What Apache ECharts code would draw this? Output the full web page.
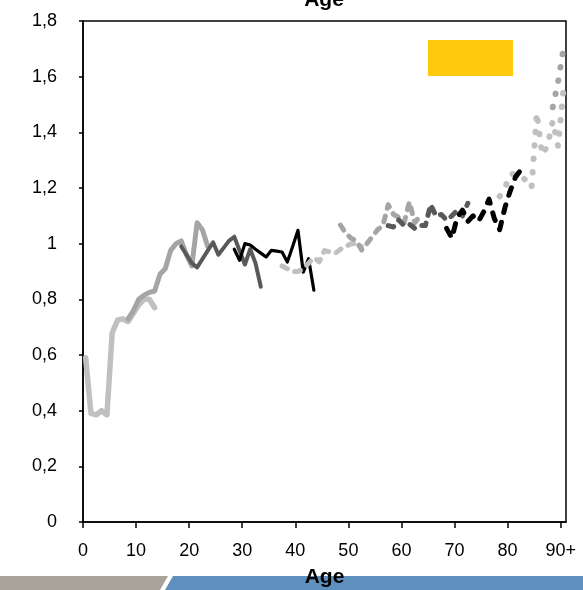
<!DOCTYPE html>
<html><head><meta charset="utf-8">
<script src="https://cdn.jsdelivr.net/npm/echarts@6/dist/echarts.min.js"></script>
<style>html,body{margin:0;padding:0;background:#fff}#c{width:583px;height:590px}</style>
</head><body><div id="c"></div>
<script>
// ---- data ----
const ageCategories = Array.from({length: 91}, (_, i) => String(i));
const xTickValues = [0, 10, 20, 30, 40, 50, 60, 70, 80, 90];
const xTickLabels = ['0', '10', '20', '30', '40', '50', '60', '70', '80', '90+'];
const yTickValues = [0, 0.2, 0.4, 0.6, 0.8, 1, 1.2, 1.4, 1.6, 1.8];

const agesA = [0,1,2,3,4,5,6,7,8,9,10,11,12,13];
const valsA = [0.59,0.39,0.385,0.40,0.385,0.68,0.725,0.73,0.72,0.75,0.78,0.80,0.80,0.77];

const agesB = [8,9,10,11,12,13,14,15,16,17,18,19,20,21,22,23];
const valsB = [0.73,0.76,0.80,0.815,0.825,0.83,0.89,0.91,0.975,1.00,1.01,0.96,0.92,1.075,1.05,0.99];

const agesC = [18,19,20,21,22,23,24,25,26,27,28,29,30,31,32,33];
const valsC = [0.99,0.96,0.93,0.915,0.945,0.975,1.005,0.96,0.985,1.01,1.025,0.975,0.925,0.98,0.93,0.845];

const agesD = [28,29,30,31,32,33,34,35,36,37,38,39,40,41,42,43];
const valsD = [0.98,0.94,1.00,0.995,0.98,0.966,0.952,0.976,0.973,0.97,0.934,0.99,1.048,0.898,0.946,0.833];

const agesE = [37,38,39,40,41,42,43,44,45,46,47,48,49,50,51,52];
const valsE = [0.92,0.91,0.90,0.90,0.91,0.93,0.95,0.935,0.975,0.97,0.965,0.98,0.99,1.00,1.00,0.99];

const agesF = [48,49,50,51,52,53,54,55,56,57,58,59,60,61,62,63];
const valsF = [1.067,1.037,1.02,1.01,0.977,1.00,1.025,1.05,1.065,1.14,1.105,1.095,1.075,1.15,1.075,1.10];

const agesG = [57,58,59,60,61,62,63,64,65,66,67,68,69,70,71,72];
const valsG = [1.065,1.06,1.085,1.065,1.07,1.055,1.065,1.065,1.14,1.10,1.105,1.085,1.10,1.12,1.10,1.145];

const agesH = [68,69,70,71,72,73,74,75,76,77,78,79,80,81,82,83];
const valsH = [1.055,1.02,1.095,1.12,1.08,1.10,1.08,1.115,1.16,1.09,1.05,1.13,1.19,1.24,1.265,1.275];

const agesI = [78,79,80,81,82,83,84,85,86,87,88,89,90];
const valsI = [1.17,1.20,1.25,1.25,1.245,1.225,1.20,1.47,1.32,1.35,1.44,1.35,1.55];

const agesJ = [88,89,90];
const valsJ = [1.49,1.58,1.70];

// ---- chart ----
const pairs = (ages, vals) => ages.map((a, i) => [String(a), vals[i]]);
function line(name, ages, vals, color, width, dash) {
  return {
    name, type: 'line', xAxisIndex: 0, yAxisIndex: 0,
    data: pairs(ages, vals), symbol: 'none', silent: true,
    lineStyle: {color, width, type: dash || 'solid', cap: 'round', join: 'round'},
    itemStyle: {color}
  };
}
const FONT = 'Liberation Sans, Arial, sans-serif';
const chart = echarts.init(document.getElementById('c'), null, {renderer: 'canvas'});
chart.setOption({
  animation: false,
  backgroundColor: '#fff',
  grid: {left: 83, right: 17, top: 21, bottom: 68, outerBoundsMode: 'none', containLabel: false,
         show: true, borderColor: '#000', borderWidth: 1.5, backgroundColor: 'transparent'},
  xAxis: [
    {type: 'category', data: ageCategories, position: 'top', boundaryGap: true, show: false},
    {type: 'value', min: 0, max: 91, position: 'bottom',
     axisLine: {show: true, lineStyle: {color: '#000', width: 1.5}},
     axisTick: {show: true, length: 6, lineStyle: {color: '#000', width: 1.5}, customValues: xTickValues},
     axisLabel: {customValues: xTickValues, formatter: v => xTickLabels[xTickValues.indexOf(v)] || '',
                 color: '#000', fontSize: 18, fontFamily: FONT, margin: 20},
     splitLine: {show: false},
     name: 'Age', nameLocation: 'middle', nameGap: 45,
     nameTextStyle: {fontWeight: 'bold', fontSize: 21, color: '#000', fontFamily: FONT}}
  ],
  yAxis: {type: 'value', min: 0, max: 1.8, interval: 0.2,
    axisLine: {show: true, lineStyle: {color: '#000', width: 1.5}},
    axisTick: {show: true, length: 4, lineStyle: {color: '#000', width: 1.5}},
    axisLabel: {formatter: v => String(Math.round(v * 10) / 10).replace('.', ','), color: '#000', fontSize: 18, fontFamily: FONT, margin: 26},
    splitLine: {show: false}},
  graphic: [
    {type: 'polygon', z: -10, shape: {points: [[0,576],[168,576],[160,590],[0,590]]}, style: {fill: '#a9a29a'}},
    {type: 'polygon', z: -10, shape: {points: [[173,576],[583,576],[583,590],[165,590]]}, style: {fill: '#5f8fbd'}},
    {type: 'rect', shape: {x: 428, y: 40, width: 85, height: 36}, style: {fill: '#ffc90e'}},
    {type: 'text', x: 324, y: 0, style: {text: 'Age', font: 'bold 21px ' + FONT, fill: '#000', align: 'center', verticalAlign: 'middle'}}
  ],
  series: [
    line('A', agesA, valsA, '#c0c0c0', 5.5),
    line('B', agesB, valsB, '#a5a5a5', 5),
    line('C', agesC, valsC, '#595959', 4),
    line('D', agesD, valsD, '#000000', 3.2),
    line('E', agesE, valsE, '#c0c0c0', 5, [6, 8]),
    line('F', agesF, valsF, '#a5a5a5', 5, [6, 8]),
    line('G', agesG, valsG, '#595959', 5, [6, 8]),
    line('I', agesI, valsI, '#c0c0c0', 6, [0.5, 13]),
    line('J', agesJ, valsJ, '#a5a5a5', 6, [0.5, 13]),
    line('H', agesH, valsH, '#000000', 5, [8, 10])
  ]
});
</script></body></html>
